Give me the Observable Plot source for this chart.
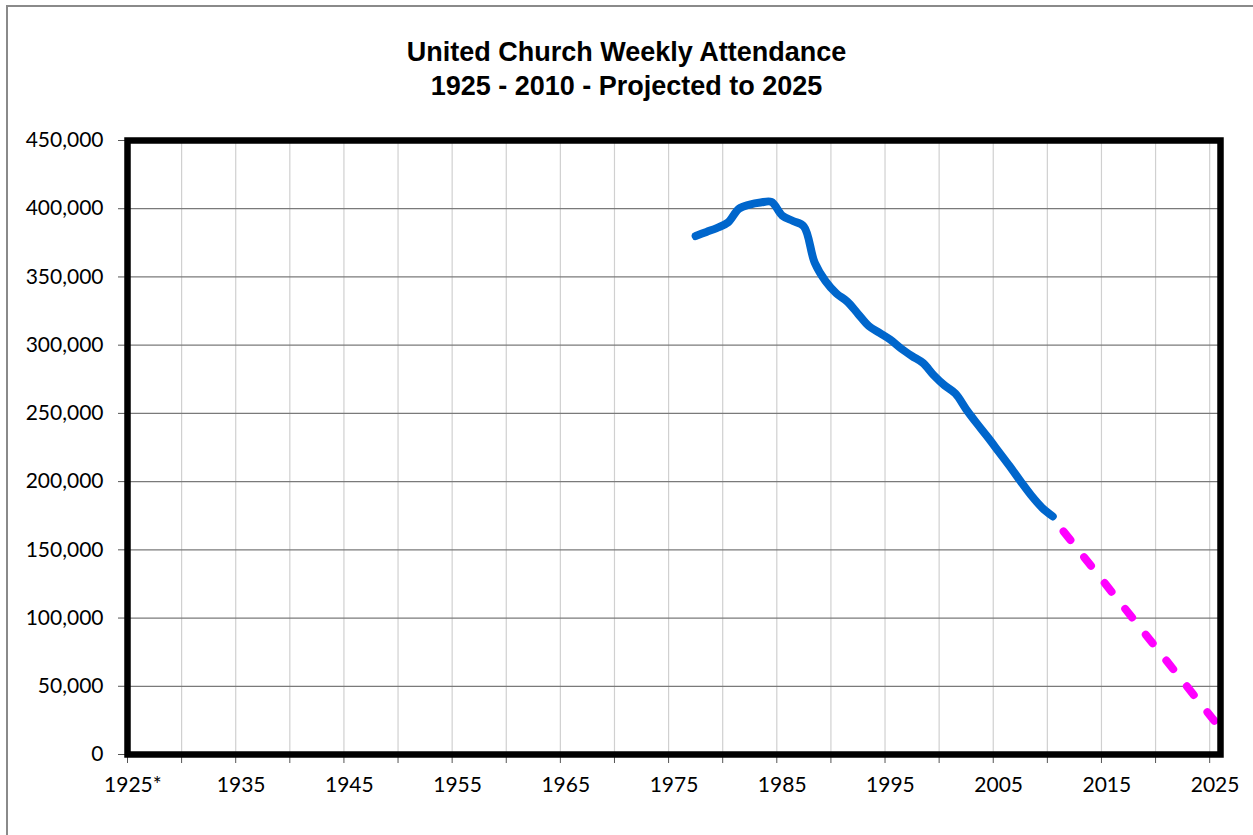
<!DOCTYPE html>
<html><head><meta charset="utf-8">
<script src="https://cdn.jsdelivr.net/npm/d3@7"></script>
<script src="https://cdn.jsdelivr.net/npm/@observablehq/plot@0.6"></script>
<style>
html,body{margin:0;padding:0;background:#fff;overflow:hidden;width:1253px;height:835px}
#wrap{position:relative;width:1253px;height:835px;overflow:hidden}
#border{position:absolute;left:6px;top:5px;width:1300px;height:900px;border:2px solid #8a8a8a}
#title{position:absolute;left:0;top:35px;width:1253px;text-align:center;font:bold 27px "Liberation Sans",Arial,sans-serif;line-height:34px;color:#000}
#chart{position:absolute;left:0;top:0}
</style></head><body>
<div id="wrap"><div id="border"></div><div id="chart"></div><div id="title">United Church Weekly Attendance<br>1925 - 2010 - Projected to 2025</div></div>
<script>
const years = [1977,1978,1979,1980,1981,1982,1983,1984,1985,1986,1987,1988,1989,1990,1991,1992,1993,1994,1995,1996,1997,1998,1999,2000,2001,2002,2003,2004,2005,2006,2007,2008,2009,2010];
const attendance = [380000,383000,386000,390000,400000,403000,404500,405000,395000,391000,387000,360500,347000,338000,332000,323000,314000,309000,304000,297500,292000,287000,278000,270500,264500,253000,242500,232500,222000,211500,200500,190000,181000,174500];
// Projection
const projYears = [2011, 2025];
const projValues = [163500, 24000];
// Axis
const labelYears = [1925,1935,1945,1955,1965,1975,1985,1995,2005,2015,2025];
const tickYears = [1925,1930,1935,1940,1945,1950,1955,1960,1965,1970,1975,1980,1985,1990,1995,2000,2005,2010,2015,2020,2025];
const yTicks = [0,50000,100000,150000,200000,250000,300000,350000,400000,450000];

const actual = years.map((y,i)=>({year:y, value:attendance[i]}));
const proj = projYears.map((y,i)=>({year:y, value:projValues[i]}));
const bounds = tickYears.map(y=>y-0.5);

const chart = Plot.plot({
  width:1253, height:835,
  marginLeft:127, marginRight:33, marginTop:140, marginBottom:81,
  style:{fontFamily:"Lato, 'Liberation Sans', sans-serif", fontSize:"21px", color:"#000", background:"transparent"},
  x:{domain:[1924.5,2025.5]},
  y:{domain:[0,450000]},
  marks:[
    Plot.ruleX(bounds.slice(1), {stroke:"#d0d0d0", strokeWidth:1.2}),
    Plot.ruleY(yTicks.slice(1,-1), {stroke:"#7a7a7a", strokeWidth:1.3}),
    Plot.axisY({ticks:yTicks, tickFormat:d3.format(","), tickSize:9, tickPadding:15, label:null, stroke:"#555"}),
    Plot.axisX({ticks:bounds, tickFormat:()=>"", tickSize:9, label:null, stroke:"#555"}),
    Plot.axisX({ticks:labelYears, tickFormat:d=> d===1925?"1925*":String(d), tickSize:0, tickPadding:23, label:null}),
    Plot.line(proj, {x:"year", y:"value", stroke:"#FF00FF", strokeWidth:8, strokeLinecap:"round", strokeDasharray:"11,22"}),
    Plot.line(actual, {x:"year", y:"value", stroke:"#0066CC", strokeWidth:8, strokeLinecap:"round", strokeLinejoin:"round", curve:"catmull-rom"}),
    Plot.frame({stroke:"#000", strokeWidth:6.5})
  ]
});
document.getElementById("chart").appendChild(chart);
</script>
</body></html>
